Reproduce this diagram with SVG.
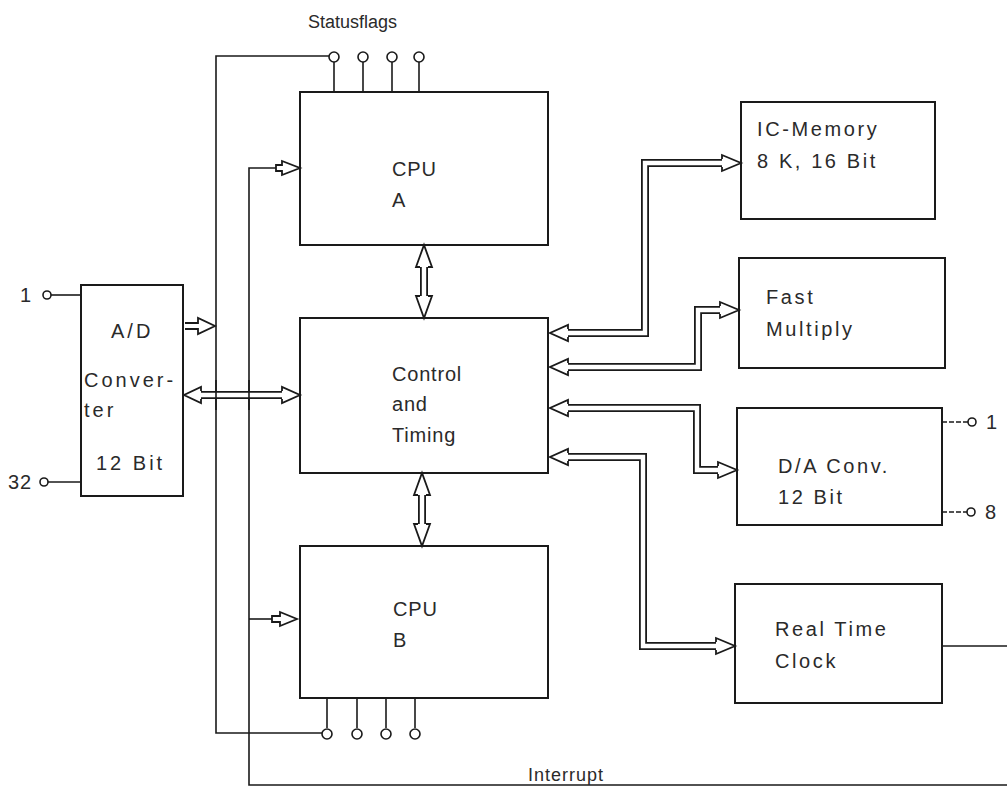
<svg xmlns="http://www.w3.org/2000/svg" width="1007" height="793" viewBox="0 0 1007 793">
<style>
.box{fill:none;stroke:#1a1a1a;stroke-width:2}
.ln{fill:none;stroke:#1a1a1a;stroke-width:1.6}
.dl{fill:none;stroke:#1a1a1a;stroke-width:1.6;stroke-dasharray:5 2}
.tubeO{fill:none;stroke:#1a1a1a;stroke-width:8;stroke-linejoin:miter}
.tubeI{fill:none;stroke:#fff;stroke-width:4.4;stroke-linejoin:miter}
.head{fill:#fff;stroke:#1a1a1a;stroke-width:1.8;stroke-linejoin:miter}
.pin{fill:#fff;stroke:#1a1a1a;stroke-width:1.6}
text{font-family:"Liberation Sans",Arial,sans-serif;font-size:20px;fill:#2a2a2a}
.c{letter-spacing:0.8px}
.r{letter-spacing:2.6px}
.a{letter-spacing:3px}
</style>
<rect width="1007" height="793" fill="#fff"/>
<g id="connectors">
<polyline class="ln" points="329,56 216,56 216,733 322,733"/>
<polyline class="ln" points="276,168 249,168 249,785 1007,785"/>
<line class="ln" x1="249" y1="619" x2="272" y2="619"/>
<line class="ln" x1="334" y1="62" x2="334" y2="92"/>
<line class="ln" x1="363" y1="62" x2="363" y2="92"/>
<line class="ln" x1="392" y1="62" x2="392" y2="92"/>
<line class="ln" x1="419" y1="62" x2="419" y2="92"/>
<circle class="pin" cx="334" cy="57" r="5"/>
<circle class="pin" cx="363" cy="57" r="5"/>
<circle class="pin" cx="392" cy="57" r="5"/>
<circle class="pin" cx="419" cy="57" r="5"/>
<line class="ln" x1="327" y1="698" x2="327" y2="728"/>
<line class="ln" x1="357" y1="698" x2="357" y2="728"/>
<line class="ln" x1="386" y1="698" x2="386" y2="728"/>
<line class="ln" x1="415" y1="698" x2="415" y2="728"/>
<circle class="pin" cx="327" cy="734" r="5"/>
<circle class="pin" cx="357" cy="734" r="5"/>
<circle class="pin" cx="386" cy="734" r="5"/>
<circle class="pin" cx="415" cy="734" r="5"/>
<path class="head" d="M276,165 L282,165 L282,161 L300,168 L282,175 L282,171 L276,171 Z"/>
<path class="head" d="M272,616 L280,616 L280,612 L297,619 L280,626 L280,622 L272,622 Z"/>
<path class="head" d="M185,323 L198,323 L198,318 L215,326 L198,334 L198,329 L185,329"/>
<polyline class="tubeO" points="200,395 282,395"/>
<polyline class="tubeI" points="198,395 284,395"/>
<path class="head" d="M201,391 L201,387 L184,395 L201,403 L201,399"/>
<path class="head" d="M282,391 L282,387 L300,395 L282,403 L282,399"/>
<line class="ln" x1="216" y1="380" x2="216" y2="410"/>
<line class="ln" x1="249" y1="380" x2="249" y2="410"/>
<polyline class="tubeO" points="424,266 424,297"/>
<polyline class="tubeI" points="424,264 424,299"/>
<path class="head" d="M420,267 L416,267 L424,245 L432,267 L428,267"/>
<path class="head" d="M420,296 L416,296 L424,318 L432,296 L428,296"/>
<polyline class="tubeO" points="422,494 422,525"/>
<polyline class="tubeI" points="422,492 422,527"/>
<path class="head" d="M418,495 L414,495 L422,473 L430,495 L426,495"/>
<path class="head" d="M418,524 L414,524 L422,546 L430,524 L426,524"/>
<polyline class="tubeO" points="568,333 645,333 645,163 722,163"/>
<polyline class="tubeI" points="566,333 645,333 645,163 724,163"/>
<path class="head" d="M568,329 L568,325 L550,333 L568,341 L568,337"/>
<path class="head" d="M722,159 L722,155 L741,163 L722,171 L722,167"/>
<polyline class="tubeO" points="568,367 698,367 698,310 720,310"/>
<polyline class="tubeI" points="566,367 698,367 698,310 722,310"/>
<path class="head" d="M568,363 L568,359 L550,367 L568,375 L568,371"/>
<path class="head" d="M720,306 L720,302 L739,310 L720,318 L720,314"/>
<polyline class="tubeO" points="568,408 697,408 697,470 718,470"/>
<polyline class="tubeI" points="566,408 697,408 697,470 720,470"/>
<path class="head" d="M568,404 L568,400 L550,408 L568,416 L568,412"/>
<path class="head" d="M718,466 L718,462 L737,470 L718,478 L718,474"/>
<polyline class="tubeO" points="568,457 643,457 643,646 716,646"/>
<polyline class="tubeI" points="566,457 643,457 643,646 718,646"/>
<path class="head" d="M568,453 L568,449 L550,457 L568,465 L568,461"/>
<path class="head" d="M716,642 L716,638 L735,646 L716,654 L716,650"/>
<line class="ln" x1="942" y1="646" x2="1007" y2="646"/>
<line class="ln" x1="51" y1="295" x2="81" y2="295"/>
<circle class="pin" cx="47" cy="295" r="4"/>
<line class="ln" x1="48" y1="482" x2="81" y2="482"/>
<circle class="pin" cx="44" cy="482" r="4"/>
<line class="dl" x1="942" y1="422" x2="968" y2="422"/>
<circle class="pin" cx="972" cy="422" r="4"/>
<line class="dl" x1="942" y1="512" x2="967" y2="512"/>
<circle class="pin" cx="971" cy="512" r="4"/>
</g>
<g id="ad"><rect class="box" x="81" y="285" width="102" height="211"/>
<text class="a" x="111" y="338">A/D</text><text class="a" x="84" y="387">Conver-</text><text class="a" x="84" y="417">ter</text><text class="a" x="96" y="470">12 Bit</text></g>
<g id="cpuA"><rect class="box" x="300" y="92" width="248" height="153"/>
<text class="c" x="392" y="176">CPU</text><text class="c" x="392" y="207">A</text></g>
<g id="ctrl"><rect class="box" x="300" y="318" width="248" height="155"/>
<text class="c" x="392" y="381">Control</text><text class="c" x="392" y="411">and</text><text class="c" x="392" y="442">Timing</text></g>
<g id="cpuB"><rect class="box" x="300" y="546" width="248" height="152"/>
<text class="c" x="393" y="616">CPU</text><text class="c" x="393" y="647">B</text></g>
<g id="mem"><rect class="box" x="741" y="102" width="194" height="117"/>
<text class="r" x="757" y="136">IC-Memory</text><text class="r" x="757" y="168">8 K, 16 Bit</text></g>
<g id="mult"><rect class="box" x="739" y="258" width="206" height="110"/>
<text class="r" x="766" y="304">Fast</text><text class="r" x="766" y="336">Multiply</text></g>
<g id="da"><rect class="box" x="737" y="408" width="205" height="117"/>
<text class="r" x="778" y="473">D/A Conv.</text><text class="r" x="778" y="504">12 Bit</text></g>
<g id="rtc"><rect class="box" x="735" y="584" width="207" height="119"/>
<text class="r" x="775" y="636">Real Time</text><text class="r" x="775" y="668">Clock</text></g>
<g id="labels">
<text x="308" y="28" style="font-size:18px">Statusflags</text>
<text x="528" y="781" style="font-size:18px;letter-spacing:1px">Interrupt</text>
<text x="20" y="302">1</text><text x="8" y="489" style="letter-spacing:1px">32</text>
<text x="986" y="429">1</text><text x="985" y="519">8</text>
</g>
</svg>
